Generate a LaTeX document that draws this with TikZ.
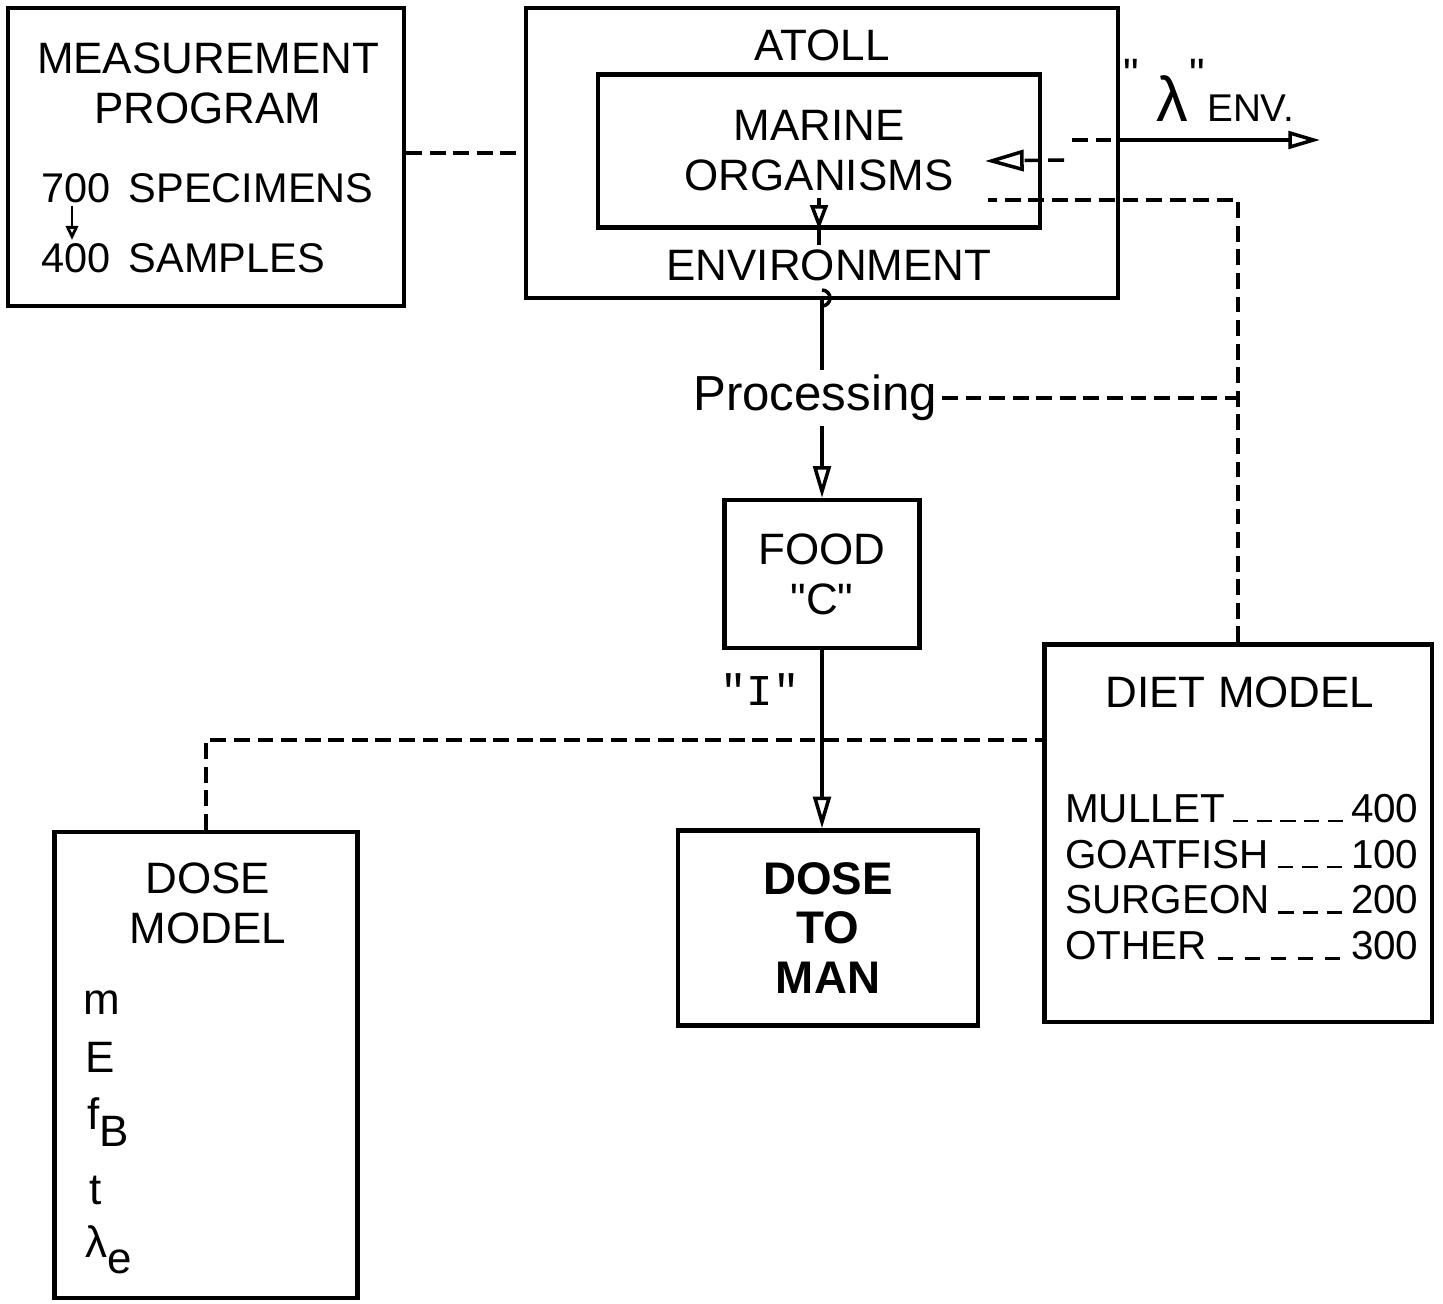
\documentclass[tikz,border=0pt]{standalone}
\usepackage{fontspec}
\setmainfont{Liberation Sans}
\setmonofont{Liberation Mono}
\usetikzlibrary{arrows.meta}

\newcommand{\dietrow}[2]{\hbox to 3.53cm{#1\kern1pt\xleaders\hbox{\kern1.2pt\rule{4.3pt}{0.7pt}\kern1.2pt}\hfill\kern1pt #2}}

\begin{document}
\begin{tikzpicture}[x=0.01cm,y=-0.01cm,line width=1pt]
\tikzstyle{every node}=[font=\fontsize{12.5}{14.2}\selectfont,align=center,inner sep=1pt]
\tikzstyle{box}=[draw,line width=1.2pt,inner sep=0pt]
\tikzstyle{link}=[dash pattern=on 4.5pt off 2.2pt,line width=1pt]
\tikzstyle{flow}=[-{Triangle[open,length=9pt,width=5pt]}]
\useasboundingbox (0,0) rectangle (1443,1303);

% boxes
\node[box,minimum width=3.96cm,minimum height=2.98cm](measure) at (206,157) {};
\node[box,minimum width=5.91cm,minimum height=2.90cm](atoll) at (822,153) {};
\node[box,minimum width=4.42cm,minimum height=1.53cm](marine) at (819,151) {MARINE\\ORGANISMS};
\node[box,minimum width=1.95cm,minimum height=1.48cm](food) at (822,574) {FOOD\\\textquotedbl C\textquotedbl};
\node[box,minimum width=3.00cm,minimum height=1.95cm,font=\fontsize{13}{14.2}\selectfont\bfseries](man) at (828,928) {DOSE\\TO\\MAN};
\node[box,minimum width=3.87cm,minimum height=3.77cm](diet) at (1238,833) {};
\node[box,minimum width=3.03cm,minimum height=4.66cm](dose) at (206,1065) {};

% texts
\node(measuretitle) at (208,83) {MEASUREMENT\\PROGRAM};
\node[anchor=west,font=\fontsize{11.8}{14}\selectfont](specimens) at (36,188) {700 \,SPECIMENS};
\node[anchor=west,font=\fontsize{11.8}{14}\selectfont](samples) at (36,258) {400 \,SAMPLES};
\node(atolltitle) at (822,45) {ATOLL};
\node(envtitle) at (829,265) {ENVIRONMENT};
\node[anchor=base west](lamlabel) at (1118,121) {\raisebox{9pt}{\textquotedbl}\kern5pt{\fontsize{18}{18}\selectfont λ}\kern0.5pt\raisebox{9pt}{\textquotedbl}\kern0.5pt{\fontsize{11}{11}\selectfont ENV.}};
\node[font=\fontsize{14}{16}\selectfont](proc) at (815,398) {Processing};
\node(ilabel) at (760,690) {\ttfamily\textquotedbl I\textquotedbl};
\node(diettitle) at (1240,692) {DIET MODEL};
\node[anchor=west,font=\fontsize{11.5}{13}\selectfont,align=left](dietlist) at (1060,877) {\dietrow{MULLET}{400}\\\dietrow{GOATFISH}{100}\\\dietrow{SURGEON}{200}\\\dietrow{OTHER}{300}};
\node(dosetitle) at (208,903) {DOSE\\MODEL};
\node[anchor=west](varm) at (78,1003) {m};
\node[anchor=west](vare) at (80,1057) {E};
\node[anchor=west](varf) at (82,1122) {f\raisebox{-0.7ex}{B}};
\node[anchor=west](vart) at (84,1190) {t};
\node[anchor=west](varl) at (80,1250) {λ\raisebox{-0.7ex}{e}};

% connectors
\draw[link] (measure.east |- atoll.west) -- (atoll.west);

\coordinate (mtap) at (819,198);
\coordinate (envtap) at (819,246);
\draw[link,-{Triangle[open,length=7pt,width=5pt]}] (mtap) -- (marine.south);
\draw[link] (marine.south) -- (envtap);

\draw (822,290) arc[start angle=90,end angle=-90,radius=0.08cm];
\draw (atoll.south) -- (atoll.south |- proc.north);
\draw[flow] (atoll.south |- proc.south) -- (food.north);

\draw[link] (proc.east) -- (proc.east -| diet.north);
\coordinate (ortap) at (988,200);
\draw[link] (diet.north) -- (diet.north |- ortap) -- (ortap);

\coordinate (inflow) at (1064,160);
\coordinate (inflowend) at (985,161);
\draw[link,-{Triangle[open,length=11pt,width=6pt]}] (inflow) -- (inflowend);

\coordinate (lamfrom) at (1072,140);
\coordinate (lamto) at (1320,140);
\draw[link] (lamfrom) -- (atoll.east |- lamfrom);
\draw[flow] (atoll.east |- lamfrom) -- (lamto);

\draw[flow] (food.south) -- (food.south |- man.north);

\coordinate (ijoin) at (822,740);
\draw[link] (dose.north) |- (ijoin) -- (ijoin -| diet.west);

\coordinate (specfoot) at (72,206);
\coordinate (samphead) at (72,240);
\draw[line width=0.8pt,-{Triangle[open,length=4pt,width=3.5pt]}] (specfoot) -- (samphead);
\end{tikzpicture}
\end{document}
